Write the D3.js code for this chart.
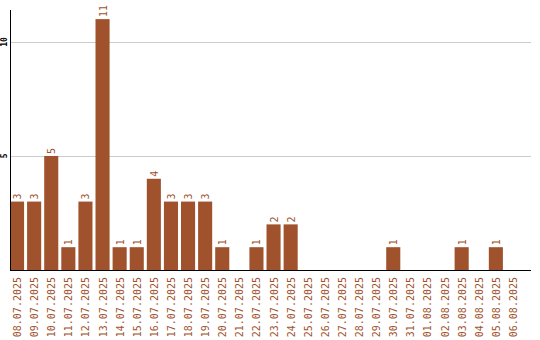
<!DOCTYPE html>
<html>
<head>
<meta charset="utf-8">
<script src="https://cdn.jsdelivr.net/npm/d3@7"></script>
<style>
  body { margin: 0; background: #fff; }
  svg { display: block; }
</style>
</head>
<body>
<div id="chart"></div>
<script>
const dates = ['08.07.2025', '09.07.2025', '10.07.2025', '11.07.2025', '12.07.2025', '13.07.2025',
  '14.07.2025', '15.07.2025', '16.07.2025', '17.07.2025', '18.07.2025', '19.07.2025', '20.07.2025',
  '21.07.2025', '22.07.2025', '23.07.2025', '24.07.2025', '25.07.2025', '26.07.2025', '27.07.2025',
  '28.07.2025', '29.07.2025', '30.07.2025', '31.07.2025', '01.08.2025', '02.08.2025', '03.08.2025',
  '04.08.2025', '05.08.2025', '06.08.2025'];
const counts = [3, 3, 5, 1, 3, 11, 1, 1, 4, 3, 3, 3, 1, 0, 1, 2, 2, 0, 0, 0, 0, 0, 1, 0, 0, 0, 1, 0, 1, 0];
const yTicks = [5, 10];

const width = 540, height = 340;
const margin = { top: 10, right: 9, bottom: 70, left: 10 };
const color = '#a0522d';
const font = 'DejaVu Sans Mono, monospace';

const svg = d3.select('#chart').append('svg')
  .attr('width', width)
  .attr('height', height);

const x = d3.scaleBand()
  .domain(dates)
  .range([margin.left, margin.left + dates.length * 17])
  .paddingInner(3 / 17)
  .paddingOuter(0)
  .align(0);

const y = d3.scaleLinear()
  .domain([0, 11.4])
  .range([height - margin.bottom, margin.top]);

const x0 = margin.left, x1 = width - margin.right;

// grid
svg.append('g')
  .selectAll('line')
  .data(yTicks)
  .join('line')
  .attr('x1', x0).attr('x2', x1)
  .attr('y1', d => Math.round(y(d)) + 0.5)
  .attr('y2', d => Math.round(y(d)) + 0.5)
  .attr('stroke', '#cccccc')
  .attr('stroke-width', 1);

// bars
svg.append('g')
  .selectAll('rect')
  .data(counts.map((v, i) => ({ date: dates[i], value: v })).filter(d => d.value > 0))
  .join('rect')
  .attr('x', d => x(d.date))
  .attr('width', x.bandwidth())
  .attr('y', d => y(d.value))
  .attr('height', d => y(0) - y(d.value))
  .attr('fill', color);

// value labels
svg.append('g')
  .selectAll('text')
  .data(counts.map((v, i) => ({ date: dates[i], value: v })).filter(d => d.value > 0))
  .join('text')
  .attr('transform', d => `translate(${x(d.date) + x.bandwidth() / 2 + 4},${y(d.value) - 2}) rotate(-90)`)
  .attr('text-anchor', 'start')
  .attr('font-family', font)
  .attr('font-size', 10)
  .attr('fill', color)
  .text(d => d.value);

// y axis
svg.append('line')
  .attr('x1', x0 + 0.5).attr('x2', x0 + 0.5)
  .attr('y1', margin.top).attr('y2', y(0))
  .attr('stroke', '#000');

svg.append('g')
  .selectAll('text')
  .data(yTicks)
  .join('text')
  .attr('transform', d => `translate(7,${y(d)}) rotate(-90)`)
  .attr('text-anchor', 'middle')
  .attr('font-family', font)
  .attr('font-size', 8)
  .attr('font-weight', 'bold')
  .attr('fill', '#000')
  .text(d => d);

// x axis baseline
svg.append('line')
  .attr('x1', x0).attr('x2', x1)
  .attr('y1', Math.round(y(0)) + 0.5).attr('y2', Math.round(y(0)) + 0.5)
  .attr('stroke', '#000');

// x labels
svg.append('g')
  .selectAll('text')
  .data(dates)
  .join('text')
  .attr('transform', d => `translate(${x(d) + x.bandwidth() / 2 + 4},${y(0) + 7}) rotate(-90)`)
  .attr('text-anchor', 'end')
  .attr('font-family', font)
  .attr('font-size', 10)
  .attr('fill', color)
  .text(d => d);
</script>
</body>
</html>
